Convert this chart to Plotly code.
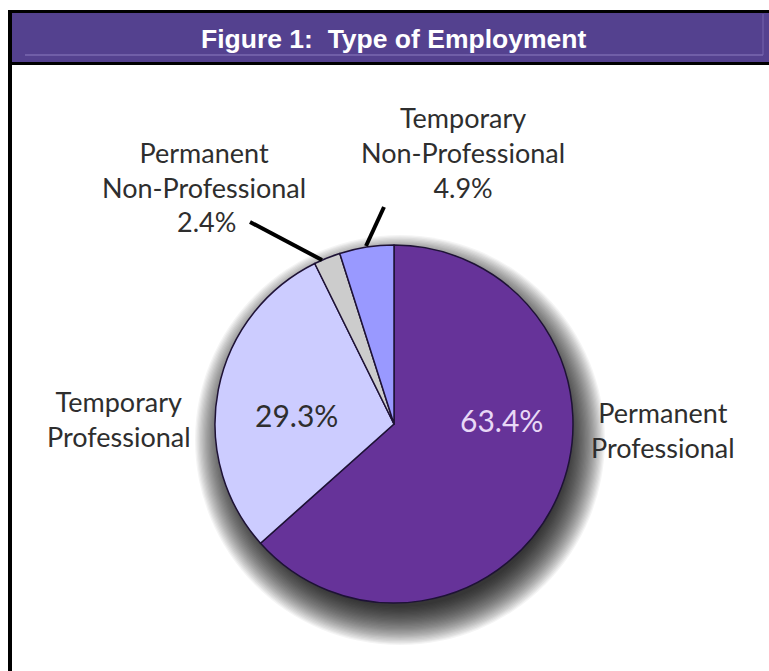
import plotly.graph_objects as go

W, H = 769, 671

labels = ["Permanent Professional", "Temporary Professional",
          "Permanent Non-Professional", "Temporary Non-Professional"]
values = [63.4, 29.3, 2.4, 4.9]
colors = ["#663399", "#CCCCFF", "#CCCCCC", "#9999FF"]
pct_text = ["63.4%", "29.3%", "2.4%", "4.9%"]
title_text = "Figure 1:  Type of Employment"


def px(x):
    return x / W


def py(y):
    return 1 - y / H


CX, CY, R = 394, 424, 179

fig = go.Figure()

fig.add_trace(go.Pie(
    labels=labels,
    values=values,
    sort=False,
    direction="clockwise",
    rotation=0,
    marker=dict(colors=colors, line=dict(color="#1E1236", width=1.5)),
    textinfo="none",
    hoverinfo="label+percent",
    showlegend=False,
    domain=dict(x=[px(CX - R), px(CX + R)], y=[py(CY + R), py(CY - R)]),
))

shapes = []

# soft drop shadow behind the pie
SX, SY = CX + 6, CY + 16
n = 32
for i in range(n):
    r = R - 12 + 38 * i / (n - 1)
    shapes.append(dict(
        type="circle", xref="paper", yref="paper",
        x0=px(SX - r), x1=px(SX + r), y0=py(SY + r), y1=py(SY - r),
        fillcolor="rgba(0,0,0,0.045)", line=dict(width=0), layer="below",
    ))

# title bar and frame
shapes += [
    dict(type="rect", xref="paper", yref="paper",
         x0=px(10), x1=px(W + 5), y0=py(63), y1=py(12),
         fillcolor="#54418F", line=dict(width=0), layer="above"),
    dict(type="line", xref="paper", yref="paper",
         x0=px(25), x1=px(763), y0=py(55), y1=py(55),
         line=dict(color="#8C7CC0", width=1), layer="above"),
    dict(type="line", xref="paper", yref="paper",
         x0=px(763), x1=px(763), y0=py(14), y1=py(55),
         line=dict(color="#7565AD", width=1), layer="above"),
    dict(type="line", xref="paper", yref="paper",
         x0=px(8), x1=px(W + 5), y0=py(11.5), y1=py(11.5),
         line=dict(color="black", width=3), layer="above"),
    dict(type="line", xref="paper", yref="paper",
         x0=px(8), x1=px(W + 5), y0=py(63.5), y1=py(63.5),
         line=dict(color="black", width=3), layer="above"),
    dict(type="line", xref="paper", yref="paper",
         x0=px(10), x1=px(10), y0=py(10), y1=py(H + 5),
         line=dict(color="black", width=4), layer="above"),
    # leader lines
    dict(type="line", xref="paper", yref="paper",
         x0=px(250), x1=px(322), y0=py(222), y1=py(260),
         line=dict(color="black", width=4), layer="above"),
    dict(type="line", xref="paper", yref="paper",
         x0=px(384), x1=px(366), y0=py(207), y1=py(246),
         line=dict(color="black", width=4), layer="above"),
]

FONT = "Lato"
TXT = "#2E2E2E"
FS = 27

annotations = [
    dict(text="<b>" + title_text + "</b>", x=px(393), y=py(39),
         font=dict(family="Liberation Sans, Arial", size=26.5, color="white")),
    dict(text="Temporary<br>Non-Professional<br>" + pct_text[3], x=px(463), y=py(152),
         font=dict(family=FONT, size=FS, color=TXT)),
    dict(text="Permanent<br>Non-Professional", x=px(204), y=py(170),
         font=dict(family=FONT, size=FS, color=TXT)),
    dict(text=pct_text[2], x=px(238), y=py(221), xanchor="right",
         font=dict(family=FONT, size=FS, color=TXT)),
    dict(text="Temporary<br>Professional", x=px(119), y=py(419),
         font=dict(family=FONT, size=FS, color=TXT)),
    dict(text="Permanent<br>Professional", x=px(663), y=py(430),
         font=dict(family=FONT, size=FS, color=TXT)),
    dict(text=pct_text[1], x=px(296), y=py(415),
         font=dict(family=FONT, size=30, color=TXT)),
    dict(text=pct_text[0], x=px(501), y=py(420),
         font=dict(family=FONT, size=30, color="#E8D8F6")),
]
for a in annotations:
    a.update(xref="paper", yref="paper", showarrow=False)
    a.setdefault("xanchor", "center")
    a["yanchor"] = "middle"

fig.update_layout(
    width=W, height=H,
    margin=dict(l=0, r=0, t=0, b=0),
    paper_bgcolor="white",
    plot_bgcolor="white",
    shapes=shapes,
    annotations=annotations,
)

fig.write_html(
    "out.html",
    config={"displayModeBar": False},
    post_script="document.body.style.margin='0';document.body.style.overflow='hidden';",
)
